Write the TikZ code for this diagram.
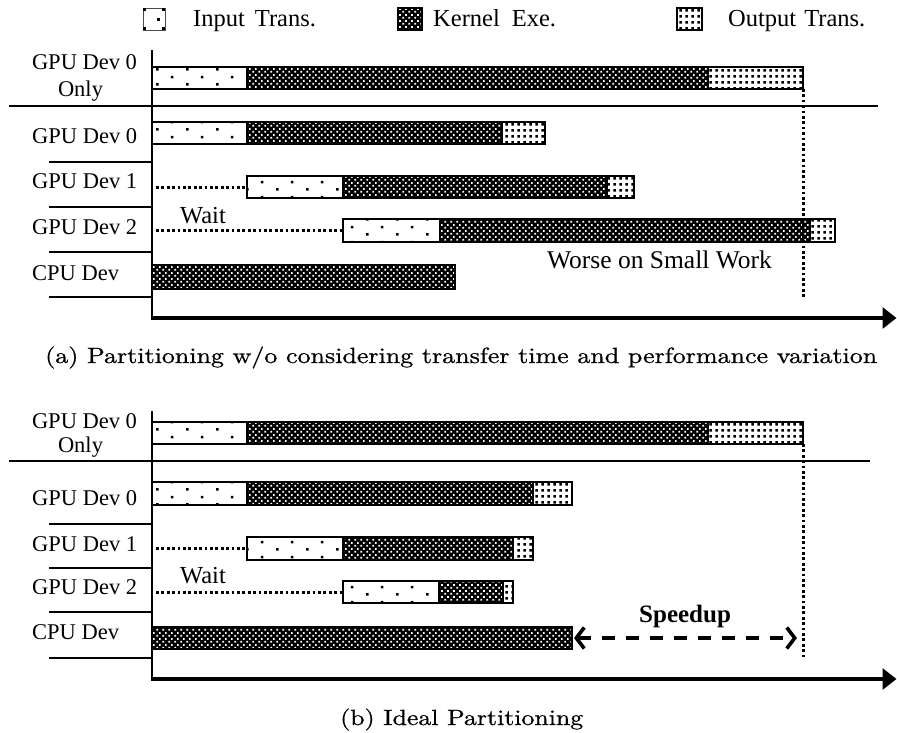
\documentclass[tikz,border=0pt]{standalone}
\usepackage{fontspec}
\newfontfamily\tms{Liberation Serif}
\newfontfamily\capfont{lmroman10-regular}[Extension=.otf, FakeBold=0.7]
\usetikzlibrary{patterns,arrows.meta}
\pgfdeclarepatternformonly{inpat}{\pgfqpoint{0pt}{0pt}}{\pgfqpoint{30pt}{15pt}}{\pgfqpoint{30pt}{15pt}}{%
  \pgfpathrectangle{\pgfqpoint{6.3pt}{2.5pt}}{\pgfqpoint{2.6pt}{2.6pt}}%
  \pgfpathrectangle{\pgfqpoint{21.3pt}{10pt}}{\pgfqpoint{2.6pt}{2.6pt}}%
  \pgfusepath{fill}}
\pgfdeclarepatternformonly{kerpat}{\pgfqpoint{0pt}{0pt}}{\pgfqpoint{6pt}{6pt}}{\pgfqpoint{6pt}{6pt}}{%
  \pgfpathrectangle{\pgfqpoint{0.5pt}{0.5pt}}{\pgfqpoint{2pt}{2pt}}%
  \pgfpathrectangle{\pgfqpoint{3.5pt}{3.5pt}}{\pgfqpoint{2pt}{2pt}}%
  \pgfusepath{fill}}
\pgfdeclarepatternformonly{outpat}{\pgfqpoint{0pt}{0pt}}{\pgfqpoint{6pt}{6pt}}{\pgfqpoint{6pt}{6pt}}{%
  \pgfpathrectangle{\pgfqpoint{1.6pt}{1.6pt}}{\pgfqpoint{2.8pt}{2.8pt}}%
  \pgfusepath{fill}}
\begin{document}
\begin{tikzpicture}[x=1pt,y=-1pt,
  inbar/.style={draw=black, line width=1.2pt, pattern=inpat, pattern color=black},
  kbar/.style={draw=black, line width=1.2pt, preaction={fill=black}, pattern=kerpat, pattern color=white},
  obar/.style={draw=black, line width=1.2pt, pattern=outpat, pattern color=black},
  waitline/.style={line width=3pt, dash pattern=on 2.7pt off 2.7pt},
  endline/.style={line width=3pt, dash pattern=on 2.7pt off 2.7pt},
  rowsep/.style={line width=1.9pt},
  mainsep/.style={line width=2pt},
  vaxis/.style={line width=2pt},
  haxis/.style={line width=3.2pt, -{Triangle[length=14pt,width=21pt]}},
  speedarrow/.style={line width=3.6pt, dash pattern=on 13pt off 11pt,
     {Straight Barb[length=8pt,width=21pt]}-{Straight Barb[length=8pt,width=21pt]}},
  lbl/.style={font=\tms\fontsize{22.5}{24}\selectfont, anchor=base west, inner sep=0pt},
  toplbl/.style={font=\tms\fontsize{22.5}{24}\selectfont, anchor=base, inner sep=0pt},
  leg/.style={font=\tms\fontsize{24.5}{26}\selectfont, anchor=base west, inner sep=0pt},
  note/.style={font=\tms\fontsize{25.5}{27}\selectfont, anchor=base west, inner sep=0pt},
  captxt/.style={font=\capfont\fontsize{22}{24}\selectfont, anchor=base west, inner sep=0pt}
]
\useasboundingbox (0,0) rectangle (897,733);

% ---------------- legend ----------------
\draw[line width=0.8pt, draw=black!70] (143,8) rectangle (165,30);
\fill (143,8) rectangle (146,11);
\fill (143,27) rectangle (146,30);
\fill (162,8) rectangle (165,11);
\fill (162,27) rectangle (165,30);
\fill (157,18) rectangle (160,21);
\node[leg] (legin) at (193,27) {Input\hspace{10pt}Trans.};
\draw[kbar] (398,8) rectangle (422,30);
\node[leg] (legker) at (433,27) {Kernel\hspace{12pt}Exe.};
\draw[obar] (677,8) rectangle (702,30);
\node[leg] (legout) at (728,27) {Output\hspace{8pt}Trans.};

% ---------------- panel (a) ----------------
\node[toplbl] (a0a) at (84.5,70) {GPU Dev 0};
\node[toplbl] (a0b) at (80.5,97) {Only};
\draw[inbar] (152,67) rectangle (247,89);
\draw[kbar] (247,67) rectangle (708,89);
\draw[obar] (708,67) rectangle (803,89);
\draw[mainsep] (9,106) -- (878,106);

\node[lbl] (a1) at (32,143) {GPU Dev 0};
\draw[inbar] (152,122) rectangle (247,144);
\draw[kbar] (247,122) rectangle (502,144);
\draw[obar] (502,122) rectangle (545,144);
\draw[rowsep] (49,162) -- (152,162);

\node[lbl] (a2) at (32,188) {GPU Dev 1};
\coordinate (a2w) at (156,187);
\coordinate (a2s) at (247,187);
\draw[waitline] (a2w) -- (a2s);
\draw[inbar] (247,176) rectangle (343,198);
\draw[kbar] (343,176) rectangle (607,198);
\draw[obar] (607,176) rectangle (634,198);
\draw[rowsep] (49,207) -- (152,207);

\node[lbl] (await) at (180,223) {\fontsize{24.5}{26}\selectfont Wait};
\node[lbl] (a3) at (32,234) {GPU Dev 2};
\coordinate (a3w) at (156,230.5);
\coordinate (a3s) at (343,230.5);
\draw[waitline] (a3w) -- (a3s);
\draw[inbar] (343,219) rectangle (440,242);
\draw[kbar] (440,219) rectangle (810,242);
\draw[obar] (810,219) rectangle (835,242);
\draw[rowsep] (49,252) -- (152,252);

\node[lbl] (a4) at (32,280) {CPU Dev};
\draw[kbar] (152,265) rectangle (455,289);
\draw[rowsep] (49,297) -- (152,297);

\node[note] (worse) at (547,268) {Worse on Small Work};

\coordinate (aendtop) at (803,89);
\coordinate (aendbot) at (803,297);
\draw[endline] (aendtop) -- (aendbot);

\coordinate (aorig) at (152,318);
\coordinate (atop) at (152,50);
\coordinate (atime) at (896.5,318);
\draw[vaxis] (atop) -- (aorig);
\draw[haxis] (151,318) -- (atime);

\node[captxt] (capa) at (45,363) {\resizebox{832pt}{\height}{(a) Partitioning w/o considering transfer time and performance variation}};

% ---------------- panel (b) ----------------
\node[toplbl] (b0a) at (84.5,428) {GPU Dev 0};
\node[toplbl] (b0b) at (80.5,452) {Only};
\draw[inbar] (152,422) rectangle (247,444);
\draw[kbar] (247,422) rectangle (708,444);
\draw[obar] (708,422) rectangle (803,444);
\draw[mainsep] (9,461) -- (870,461);

\node[lbl] (b1) at (32,505) {GPU Dev 0};
\draw[inbar] (152,482) rectangle (247,505);
\draw[kbar] (247,482) rectangle (533,505);
\draw[obar] (533,482) rectangle (572,505);
\draw[rowsep] (49,524) -- (152,524);

\node[lbl] (b2) at (32,551) {GPU Dev 1};
\coordinate (b2w) at (156,548.5);
\coordinate (b2s) at (247,548.5);
\draw[waitline] (b2w) -- (b2s);
\draw[inbar] (247,537) rectangle (343,560);
\draw[kbar] (343,537) rectangle (513,560);
\draw[obar] (513,537) rectangle (533,560);
\draw[rowsep] (49,568) -- (152,568);

\node[lbl] (bwait) at (180,583) {\fontsize{24.5}{26}\selectfont Wait};
\node[lbl] (b3) at (32,594) {GPU Dev 2};
\coordinate (b3w) at (156,592);
\coordinate (b3s) at (343,592);
\draw[waitline] (b3w) -- (b3s);
\draw[inbar] (343,581) rectangle (439,603);
\draw[kbar] (439,581) rectangle (503,603);
\draw[obar] (503,581) rectangle (513,603);
\draw[rowsep] (49,612) -- (152,612);

\node[lbl] (b4) at (32,639) {CPU Dev};
\draw[kbar] (152,627) rectangle (572,649);
\draw[rowsep] (49,658) -- (152,658);

\coordinate (bendtop) at (803,444);
\coordinate (bendbot) at (803,657);
\draw[endline] (bendtop) -- (bendbot);

\node[note, font=\tms\bfseries\fontsize{25}{27}\selectfont] (speed) at (639,622) {Speedup};
\coordinate (cpuend) at (574,638);
\coordinate (gpuend) at (797,638);
\draw[speedarrow] (cpuend) -- (gpuend);

\coordinate (borig) at (152,679);
\coordinate (btop) at (152,411);
\coordinate (btime) at (896.5,679);
\draw[vaxis] (btop) -- (borig);
\draw[haxis] (151,679) -- (btime);

\node[captxt] (capb) at (340,725) {\resizebox{243pt}{\height}{(b) Ideal Partitioning}};
\end{tikzpicture}
\end{document}
